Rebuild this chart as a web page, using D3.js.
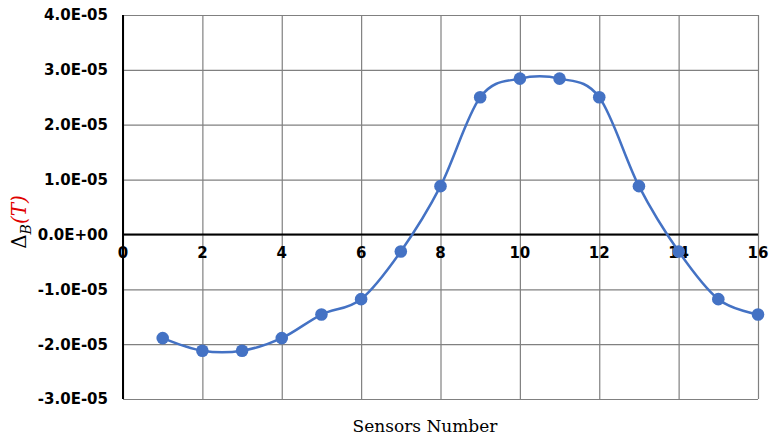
<!DOCTYPE html>
<html><head><meta charset="utf-8">
<script src="https://cdn.jsdelivr.net/npm/d3@7"></script>
<style>body{margin:0;background:#fff}svg{display:block}</style>
</head><body>
<script>
const sensors = [1,2,3,4,5,6,7,8,9,10,11,12,13,14,15,16];
const deltaB = [-1.89e-5,-2.12e-5,-2.12e-5,-1.89e-5,-1.46e-5,-1.18e-5,-0.31e-5,0.88e-5,2.50e-5,2.84e-5,2.84e-5,2.50e-5,0.88e-5,-0.31e-5,-1.18e-5,-1.46e-5];
const xTicks = [0,2,4,6,8,10,12,14,16];
const yTicks = [-3e-5,-2e-5,-1e-5,0,1e-5,2e-5,3e-5,4e-5];
const yTickLabels = ["-3.0E-05","-2.0E-05","-1.0E-05","0.0E+00","1.0E-05","2.0E-05","3.0E-05","4.0E-05"];

const W=772,H=438;
const svg=d3.select("body").append("svg").attr("width",W).attr("height",H);
const x=d3.scaleLinear().domain([0,16]).range([123,758]);
const y=d3.scaleLinear().domain([-3e-5,4e-5]).range([399,15]);

// gridlines
const gx=svg.append("g").attr("transform",`translate(0,${y(-3e-5)})`)
  .call(d3.axisBottom(x).tickValues(xTicks).tickSize(-(y(-3e-5)-y(4e-5))).tickFormat(""));
gx.select(".domain").remove();
gx.selectAll("line").attr("stroke","#808080").attr("stroke-width",1.2);
const gy=svg.append("g").attr("transform",`translate(${x(0)},0)`)
  .call(d3.axisLeft(y).tickValues(yTicks).tickSize(-(x(16)-x(0))).tickFormat(""));
gy.select(".domain").remove();
gy.selectAll("line").attr("stroke","#808080").attr("stroke-width",1.2);

// zero line and left axis
svg.append("line").attr("x1",x(0)).attr("x2",x(16)).attr("y1",y(0)).attr("y2",y(0)).attr("stroke","#000").attr("stroke-width",2);
svg.append("line").attr("x1",x(0)).attr("x2",x(0)).attr("y1",y(4e-5)).attr("y2",y(-3e-5)).attr("stroke","#000").attr("stroke-width",2);

// y tick labels
svg.append("g").selectAll("text").data(yTicks).join("text")
  .attr("x",108).attr("y",d=>y(d)).attr("dy","0.36em").attr("text-anchor","end")
  .attr("font-family","DejaVu Sans").attr("font-weight","bold").attr("font-size",15)
  .text((d,i)=>yTickLabels[i]);
// x tick labels
svg.append("g").selectAll("text").data(xTicks).join("text")
  .attr("x",d=>x(d)).attr("y",y(0)+24).attr("text-anchor","middle")
  .attr("font-family","DejaVu Sans").attr("font-weight","bold").attr("font-size",15)
  .text(d=>d);

// line
const line=d3.line().x((d,i)=>x(sensors[i])).y(d=>y(d)).curve(d3.curveCatmullRom.alpha(0));
svg.append("path").attr("d",line(deltaB)).attr("fill","none").attr("stroke","#4472C4").attr("stroke-width",2.5);
svg.append("g").selectAll("circle").data(deltaB).join("circle")
  .attr("cx",(d,i)=>x(sensors[i])).attr("cy",d=>y(d)).attr("r",6.3).attr("fill","#4472C4");

// axis titles
svg.append("text").attr("x",425).attr("y",432).attr("text-anchor","middle")
  .attr("font-family","DejaVu Serif, serif").attr("font-size",17).text("Sensors Number");
const yt=svg.append("text").attr("transform","translate(26,222) rotate(-90)").attr("text-anchor","middle")
  .attr("font-family","DejaVu Serif, serif").attr("font-size",20);
yt.append("tspan").attr("fill","#000").text("Δ");
yt.append("tspan").attr("fill","#000").attr("font-style","italic").attr("font-size",14).attr("dy",5).text("B");
yt.append("tspan").attr("fill","#e00000").attr("font-style","italic").attr("dy",-5).text("(T)");
</script>
</body></html>
